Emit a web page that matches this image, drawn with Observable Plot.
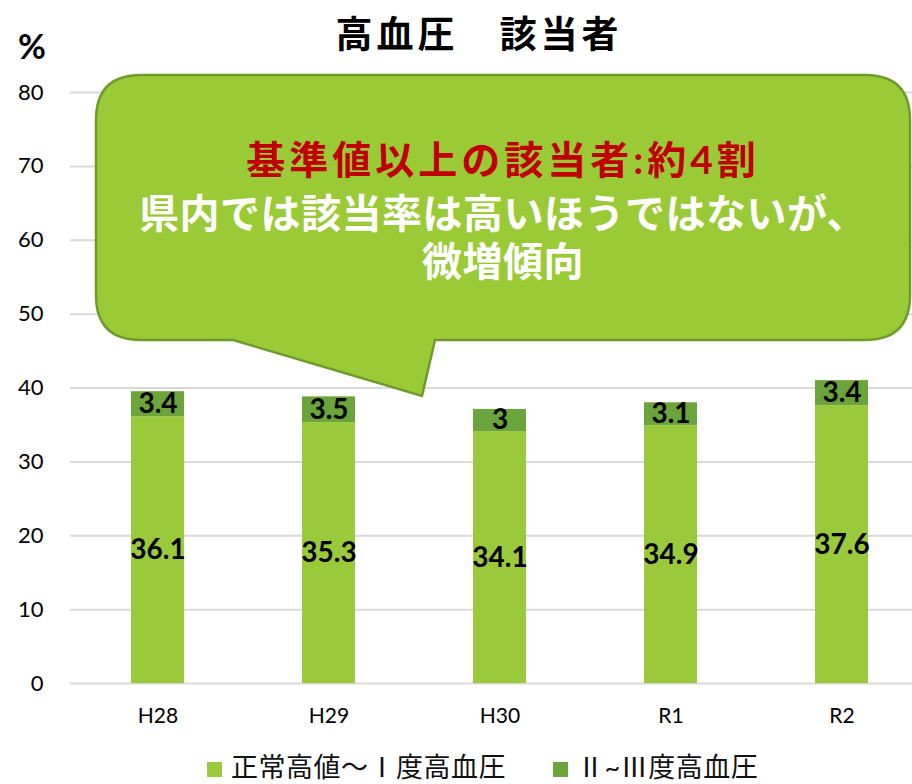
<!DOCTYPE html>
<html>
<head>
<meta charset="utf-8">
<script src="https://cdn.jsdelivr.net/npm/d3@7"></script>
<script src="https://cdn.jsdelivr.net/npm/@observablehq/plot@0.6"></script>
<style>
  html, body { margin: 0; padding: 0; background: #fff; }
  #wrap { position: relative; width: 912px; height: 784px; overflow: hidden; font-family: "Noto Sans CJK JP", sans-serif; }
  #title { position: absolute; left: 0; width: 912px; top: 10px; text-align: center; font-size: 37px; font-weight: bold; letter-spacing: 4px; line-height: 44px; color: #000; padding-left: 46px; box-sizing: border-box; }
  #pct { position: absolute; left: 18px; top: 26px; font-family: Lato, sans-serif; font-weight: bold; font-size: 34px; line-height: 40px; }
  #chart { position: absolute; left: 0; top: 60px; }
  #legend { position: absolute; left: 0; top: 752px; width: 912px; height: 30px; font-family: Lato, "Noto Sans CJK JP", sans-serif; font-size: 27px; line-height: 30px; color: #111; }
  .lg { position: absolute; top: 0; white-space: nowrap; letter-spacing: 0.5px; }
  .sw { display: inline-block; width: 15px; height: 15px; margin-right: 9px; vertical-align: 0px; }
</style>
</head>
<body>
<div id="wrap">
  <div id="title">高血圧　該当者</div>
  <div id="pct">%</div>
  <div id="chart"></div>
  <div id="legend"></div>
</div>
<script>
const years = ["H28", "H29", "H30", "R1", "R2"];
const normalHigh = [36.1, 35.3, 34.1, 34.9, 37.6];
const stage2to3 = [3.4, 3.5, 3, 3.1, 3.4];
const seriesNames = ["正常高値～Ⅰ度高血圧", "Ⅱ~Ⅲ度高血圧"];
const seriesColors = ["#9aca3c", "#6aa43a"];
const yTicks = [0, 10, 20, 30, 40, 50, 60, 70, 80];
const calloutLines = ["基準値以上の該当者:約4割", "県内では該当率は高いほうではないが、", "微増傾向"];

const table = [];
years.forEach((yr, i) => {
  table.push({year: yr, series: seriesNames[0], value: normalHigh[i]});
  table.push({year: yr, series: seriesNames[1], value: stage2to3[i]});
});

const W = 912, H = 685;
const chart = Plot.plot({
  width: W,
  height: H,
  marginTop: 32,
  marginBottom: 62,
  marginLeft: 70,
  marginRight: 0,
  style: {fontFamily: "Lato, sans-serif", background: "transparent", overflow: "visible"},
  x: {domain: years, range: [70, 929], paddingInner: 0.69, paddingOuter: 0.345, label: null},
  y: {domain: [0, 80], label: null},
  color: {domain: seriesNames, range: seriesColors},
  marks: [
    Plot.gridY(yTicks, {stroke: "#d9d9d9", strokeWidth: 2, strokeOpacity: 1}),
    Plot.barY(table, Plot.stackY({x: "year", y: "value", z: "series", fill: "series", order: seriesNames})),
    Plot.text(table, Plot.stackY({x: "year", y: "value", z: "series", order: seriesNames,
      text: d => String(d.value), fontSize: 28, fontWeight: "bold", fill: "#000"})),
    Plot.axisY({ticks: yTicks, tickSize: 0, tickPadding: 27, fontSize: 22, label: null, fill: "#000"}),
    Plot.axisX({tickSize: 0, tickPadding: 25, fontSize: 21, label: null, fill: "#000"})
  ]
});
document.getElementById("chart").appendChild(chart);

// Callout annotation (pixel space, svg-local)
const svg = d3.select(chart);
const L = 96, R = 910, T = 15, B = 280, r = 45;
const p = d3.path();
p.moveTo(L + r, T);
p.lineTo(R - r, T);
p.quadraticCurveTo(R, T, R, T + r);
p.lineTo(R, B - r);
p.quadraticCurveTo(R, B, R - r, B);
p.lineTo(435, B);
p.lineTo(422, 336);
p.lineTo(233, B);
p.lineTo(L + r, B);
p.quadraticCurveTo(L, B, L, B - r);
p.lineTo(L, T + r);
p.quadraticCurveTo(L, T, L + r, T);
p.closePath();
const g = svg.append("g");
g.append("path").attr("d", p.toString()).attr("fill", "#9acb36").attr("stroke", "#6e9b2b").attr("stroke-width", 2.5);

const callFont = "Lato, 'Noto Sans CJK JP', sans-serif";
const cs = [
  {t: calloutLines[0], y: 99, fill: "#c00000", ls: 4, fs: 39},
  {t: calloutLines[1], y: 153, fill: "#ffffff", ls: 0.5, fs: 40},
  {t: calloutLines[2], y: 201, fill: "#ffffff", ls: 0.5, fs: 40}
];
cs.forEach(o => {
  g.append("text").text(o.t)
    .attr("x", 503).attr("y", o.y)
    .attr("text-anchor", "middle").attr("dominant-baseline", "central")
    .attr("font-family", callFont)
    .attr("font-weight", "bold").attr("font-size", o.fs)
    .attr("letter-spacing", o.ls)
    .attr("fill", o.fill);
});

// Legend
const legend = document.getElementById("legend");
const legendX = [207, 553];
seriesNames.forEach((name, i) => {
  const d = document.createElement("div");
  d.className = "lg";
  d.style.left = legendX[i] + "px";
  const sw = document.createElement("span");
  sw.className = "sw";
  sw.style.background = seriesColors[i];
  d.appendChild(sw);
  d.appendChild(document.createTextNode(name));
  legend.appendChild(d);
});
</script>
</body>
</html>
